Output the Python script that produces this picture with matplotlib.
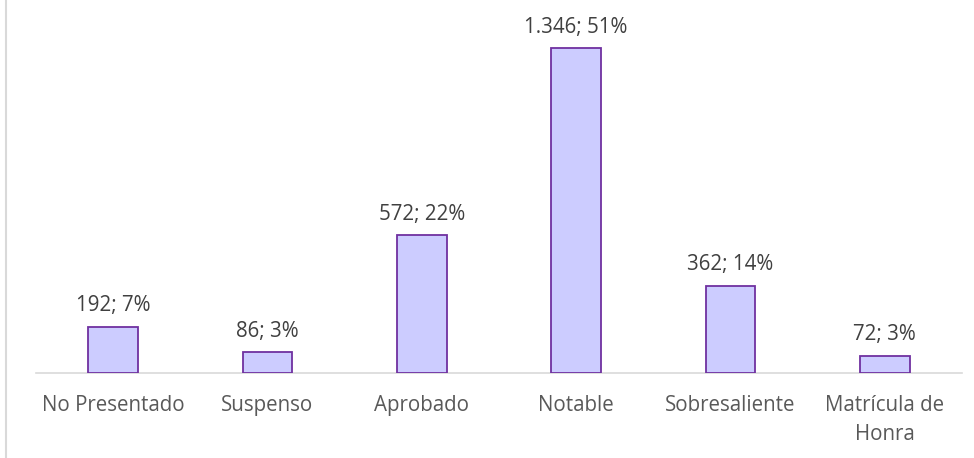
import matplotlib.pyplot as plt

categories = ['No Presentado', 'Suspenso', 'Aprobado', 'Notable', 'Sobresaliente', 'Matrícula de\nHonra']
counts = [192, 86, 572, 1346, 362, 72]
percents = [7, 3, 22, 51, 14, 3]

plt.rcParams['font.family'] = ['Open Sans', 'DejaVu Sans']

fig = plt.figure(figsize=(9.74, 4.58), dpi=100)
ax = fig.add_axes([36 / 974, 85 / 458, 926 / 974, 362 / 458])

x = range(len(categories))
bars = ax.bar(x, counts, width=0.32, color='#CCCCFF', edgecolor='#7030A0', linewidth=1.3, zorder=3)

for b, c, p in zip(bars, counts, percents):
    txt = f'{c:,}'.replace(',', '.') + f'; {p}%'
    ax.annotate(txt, (b.get_x() + b.get_width() / 2, b.get_height()),
                xytext=(0, 11), textcoords='offset points',
                ha='center', va='baseline', fontsize=14.8, color='#404040')

ax.set_xlim(-0.5, len(categories) - 0.5)
ax.set_ylim(0, 1500)
ax.set_xticks(list(x))
ax.set_xticklabels(categories, fontsize=14.8, color='#595959', linespacing=1.5)
ax.tick_params(axis='x', length=0, pad=16)
ax.set_yticks([])
for s in ['top', 'right', 'left']:
    ax.spines[s].set_visible(False)
ax.spines['bottom'].set_color('#D9D9D9')
ax.spines['bottom'].set_linewidth(1.2)

# chart border, left edge only visible
fig.add_artist(plt.Line2D([6 / 974, 6 / 974], [0, 1], color='#D9D9D9', linewidth=1.5))

fig.savefig('out.png', dpi=100, facecolor='white')
